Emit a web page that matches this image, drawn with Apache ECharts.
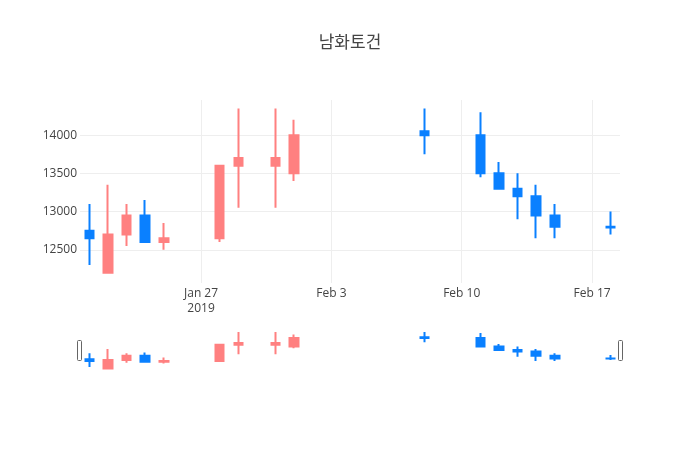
<!DOCTYPE html>
<html>
<head>
<meta charset="utf-8">
<script src="https://cdn.jsdelivr.net/npm/echarts@6/dist/echarts.min.js"></script>
<style>html,body{margin:0;padding:0;background:#fff}#c{width:700px;height:450px}</style>
</head>
<body>
<div id="c"></div>
<script>
// ---- data ----
var titleText = '남화토건';
var dates = ['2019-01-21','2019-01-22','2019-01-23','2019-01-24','2019-01-25','2019-01-28','2019-01-29','2019-01-31','2019-02-01','2019-02-08','2019-02-11','2019-02-12','2019-02-13','2019-02-14','2019-02-15','2019-02-18'];
var openVals  = [12750,12200,12700,12950,12600,12650,13600,13600,13500,14050,14000,13500,13300,13200,12950,12800];
var highVals  = [13100,13350,13100,13150,12850,13600,14350,14350,14200,14350,14300,13650,13500,13350,13100,13000];
var lowVals   = [12300,12200,12550,12600,12500,12600,13050,13050,13400,13750,13450,13300,12900,12650,12650,12700];
var closeVals = [12650,12700,12950,12600,12650,13600,13700,13700,14000,14000,13500,13300,13200,12950,12800,12790];
var tickDates  = ['2019-01-27','2019-02-03','2019-02-10','2019-02-17'];
var tickLabels = ['Jan 27\n2019','Feb 3','Feb 10','Feb 17'];
var xRange = ['2019-01-20 12:00','2019-02-18 12:00'];
var yRange = [12065, 14460];

// ---- build ----
// x positions are expressed in days since 2019-01-01 (value axis)
function dayNum(s){
  var p = s.split(/[- :]/).map(Number);
  var t = Date.UTC(p[0], p[1]-1, p[2], p[3]||0, p[4]||0);
  return (t - Date.UTC(2019,0,1)) / 86400000;
}
var tickPos = tickDates.map(dayNum);
var candle = dates.map(function(d,i){ return [dayNum(d), openVals[i], closeVals[i], lowVals[i], highVals[i]]; });
var UP = '#FF8080', DOWN = '#0A80FF';
var font = '"Open Sans", "Noto Sans CJK KR", sans-serif';

var chart = echarts.init(document.getElementById('c'), null, {renderer:'canvas'});
var candleStyle = {color: UP, color0: DOWN, borderColor: UP, borderColor0: DOWN, borderWidth: 2};
chart.setOption({
  animation: false,
  backgroundColor: '#fff',
  title: {text: titleText, left: 'center', top: 35, padding: 0,
    textStyle: {fontFamily: font, fontSize: 17, fontWeight: 'normal', color: '#444'}},
  grid: [
    {left: 80, right: 80, top: 100, height: 183, containLabel: false},
    {left: 80, right: 80, top: 330, height: 41, containLabel: false}
  ],
  xAxis: [
    {type: 'value', gridIndex: 0, min: dayNum(xRange[0]), max: dayNum(xRange[1]),
      axisLine: {show: false},
      axisTick: {show: false, customValues: tickPos},
      splitLine: {show: true, lineStyle: {color: '#eee', width: 1}},
      axisLabel: {customValues: tickPos, color: '#444', fontSize: 12, fontFamily: font, margin: 3, lineHeight: 15,
        formatter: function(v){ var i = tickPos.indexOf(v); return i >= 0 ? tickLabels[i] : ''; }}},
    {type: 'value', gridIndex: 1, min: dayNum(xRange[0]), max: dayNum(xRange[1]), show: false,
      splitLine: {show: false}}
  ],
  yAxis: [
    {type: 'value', gridIndex: 0, min: yRange[0], max: yRange[1],
      axisLine: {show: false}, axisTick: {show: false},
      splitLine: {show: true, showMinLine: false, showMaxLine: false, lineStyle: {color: '#eee', width: 1}},
      axisLabel: {color: '#444', fontSize: 12, fontFamily: font, margin: 3, showMinLabel: false, showMaxLabel: false,
        formatter: function(v){ return String(v); }}},
    {type: 'value', gridIndex: 1, min: 12060, max: 14470, show: false, splitLine: {show: false}}
  ],
  series: [
    {type: 'candlestick', xAxisIndex: 0, yAxisIndex: 0, data: candle, barWidth: 9, itemStyle: candleStyle},
    {type: 'candlestick', xAxisIndex: 1, yAxisIndex: 1, data: candle, barWidth: 9, itemStyle: candleStyle, silent: true}
  ],
  graphic: [
    {type: 'rect', shape: {x: 77.5, y: 340.5, width: 4, height: 20, r: 1}, style: {fill: '#fff', stroke: '#666', lineWidth: 1}},
    {type: 'rect', shape: {x: 618.5, y: 340.5, width: 4, height: 20, r: 1}, style: {fill: '#fff', stroke: '#666', lineWidth: 1}}
  ]
});
</script>
</body>
</html>
